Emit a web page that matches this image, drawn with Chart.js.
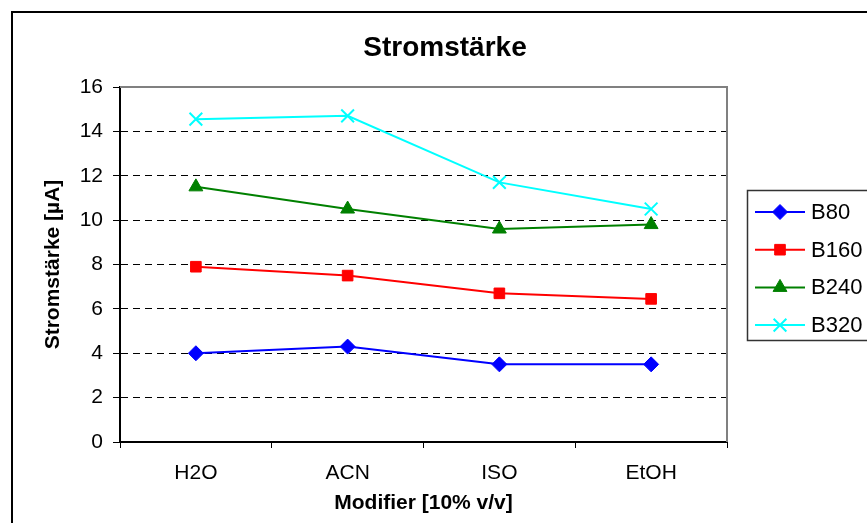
<!DOCTYPE html>
<html>
<head>
<meta charset="utf-8">
<script src="https://cdn.jsdelivr.net/npm/chart.js@4/dist/chart.umd.min.js"></script>
<style>
  html, body { margin: 0; padding: 0; background: #fff; }
  #wrap { width: 867px; height: 523px; }
</style>
</head>
<body>
<div id="wrap"><canvas id="c" width="867" height="523"></canvas></div>
<script>
  // ── Data ────────────────────────────────────────────────────────────────
  const categories = ["H2O", "ACN", "ISO", "EtOH"];
  const b80  = [4.0, 4.3, 3.5, 3.5];
  const b160 = [7.9, 7.5, 6.7, 6.45];
  const b240 = [11.5, 10.5, 9.6, 9.8];
  const b320 = [14.55, 14.7, 11.7, 10.5];
  const seriesNames = ["B80", "B160", "B240", "B320"];
  const yMin = 0, yMax = 16, yStep = 2;

  const FONT = "'Liberation Sans', Arial, sans-serif";

  // one entry per series: colour + marker
  const styles = [
    { color: "#0000ff", point: "rectRot",  radius: 7.5, border: 1 },
    { color: "#ff0000", point: "rect",     radius: 7.5, border: 1 },
    { color: "#008000", point: "triangle", radius: 8,   border: 1 },
    { color: "#00ffff", point: "crossRot", radius: 9,   border: 2 }
  ];

  const datasets = [b80, b160, b240, b320].map((vals, i) => ({
    label: seriesNames[i],
    data: vals,
    borderColor: styles[i].color,
    backgroundColor: styles[i].color,
    borderWidth: 2,
    tension: 0,
    pointStyle: styles[i].point,
    pointRadius: styles[i].radius,
    pointHoverRadius: styles[i].radius,
    pointBackgroundColor: styles[i].color,
    pointBorderColor: styles[i].color,
    pointBorderWidth: styles[i].border
  }));

  // ── Frame, plot border, title and legend (Excel look) ───────────────────
  const decor = {
    id: "decor",
    beforeDatasetsDraw(chart) {
      // gray top/right edge of the plot area
      const { ctx, chartArea: a } = chart;
      ctx.save();
      ctx.strokeStyle = "#808080";
      ctx.lineWidth = 2;
      ctx.beginPath();
      ctx.moveTo(a.left, a.top);
      ctx.lineTo(a.right, a.top);
      ctx.lineTo(a.right, a.bottom);
      ctx.stroke();
      ctx.restore();
    },
    afterDraw(chart) {
      const { ctx } = chart;
      ctx.save();
      // outer chart frame (runs off the right and bottom edge)
      ctx.strokeStyle = "#000";
      ctx.lineWidth = 2;
      ctx.strokeRect(12, 12, 900, 600);

      // title
      ctx.fillStyle = "#000";
      ctx.font = "bold 28px " + FONT;
      ctx.textAlign = "center";
      ctx.textBaseline = "middle";
      ctx.fillText("Stromstärke", 445, 48);

      // legend box
      ctx.strokeStyle = "#333";
      ctx.lineWidth = 1.5;
      ctx.strokeRect(747.5, 190.5, 200, 150);
      ctx.restore();

      chart.data.datasets.forEach((ds, i) => {
        const y = 212 + i * 37.7;
        ctx.save();
        ctx.strokeStyle = ds.borderColor;
        ctx.fillStyle = ds.borderColor;
        ctx.lineWidth = 2;
        ctx.beginPath();
        ctx.moveTo(755, y);
        ctx.lineTo(805, y);
        ctx.stroke();
        ctx.lineWidth = ds.pointBorderWidth;
        Chart.helpers.drawPoint(ctx, {
          pointStyle: ds.pointStyle,
          radius: ds.pointRadius,
          borderWidth: ds.pointBorderWidth,
          rotation: 0
        }, 780, y);
        ctx.fillStyle = "#000";
        ctx.font = "22px " + FONT;
        ctx.textAlign = "left";
        ctx.textBaseline = "middle";
        ctx.fillText(ds.label, 811, y + 1);
        ctx.restore();
      });
    }
  };

  new Chart(document.getElementById("c"), {
    type: "line",
    data: { labels: categories, datasets: datasets },
    plugins: [decor],
    options: {
      responsive: false,
      animation: false,
      events: [],
      layout: { padding: { left: 41, right: 140, top: 87, bottom: 7 } },
      plugins: {
        legend: { display: false },
        title: { display: false },
        tooltip: { enabled: false }
      },
      scales: {
        x: {
          offset: true,
          afterFit: (s) => { s.height = 74; },
          grid: {
            offset: true,
            drawOnChartArea: false,
            tickLength: 6,
            color: "#000",
            tickColor: "#000"
          },
          border: { color: "#000", width: 2 },
          ticks: { color: "#000", padding: 13, font: { family: FONT, size: 21 } },
          title: {
            display: true,
            text: "Modifier [10% v/v]",
            color: "#000",
            padding: 0,
            font: { family: FONT, size: 21, weight: "bold" }
          }
        },
        y: {
          min: yMin,
          max: yMax,
          afterFit: (s) => { s.width = 79; },
          ticks: { stepSize: yStep, color: "#000", padding: 10, font: { family: FONT, size: 21 } },
          grid: {
            color: (c) => (c.tick && (c.tick.value === yMin || c.tick.value === yMax)) ? "rgba(0,0,0,0)" : "#000",
            tickColor: "#000",
            tickLength: 7,
            lineWidth: 1
          },
          border: { color: "#000", width: 2, dash: [7, 5] },
          title: {
            display: true,
            text: "Stromstärke [µA]",
            color: "#000",
            padding: 0,
            font: { family: FONT, size: 21, weight: "bold" }
          }
        }
      }
    }
  });
</script>
</body>
</html>
